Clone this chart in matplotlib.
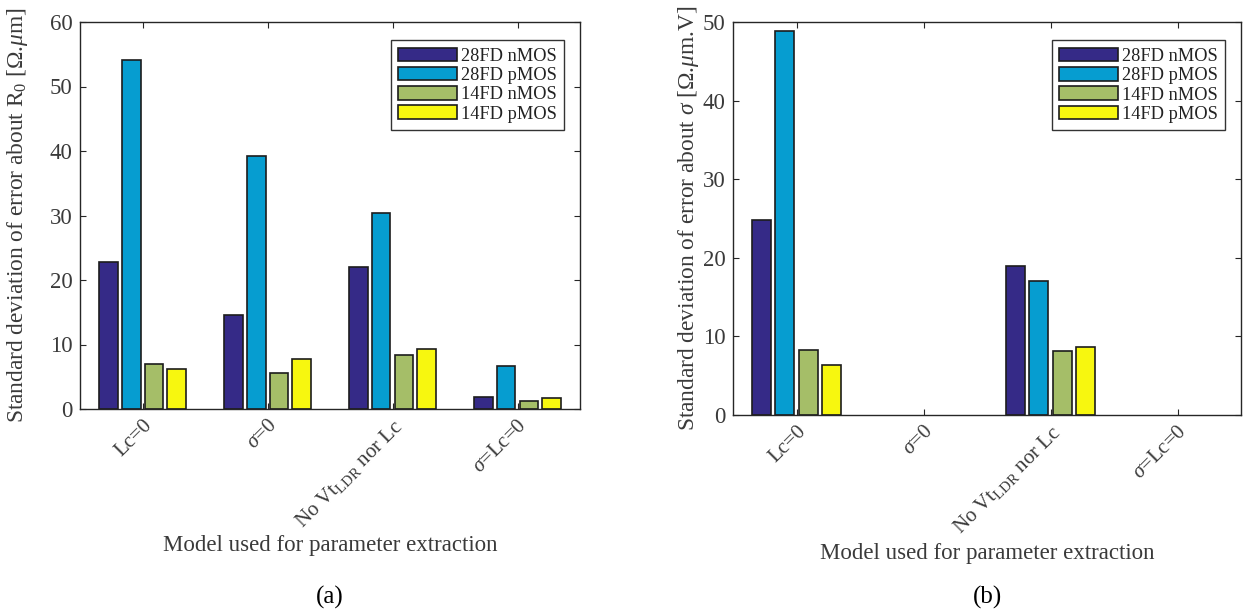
import numpy as np
import matplotlib
matplotlib.use("Agg")
import matplotlib.pyplot as plt

plt.rcParams['font.family'] = ['Liberation Serif', 'DejaVu Serif']
plt.rcParams['mathtext.fontset'] = 'custom'
plt.rcParams['mathtext.rm'] = 'Liberation Serif'
plt.rcParams['mathtext.it'] = 'Liberation Serif:italic'
plt.rcParams['mathtext.bf'] = 'Liberation Serif:bold'

# Extraction models (x categories)
models = ['Lc=0', r'$\it{\sigma}$=0', r'No Vt$_{\rm LDR}$ nor Lc',
          r'$\it{\sigma}$=Lc=0']
series = ['28FD nMOS', '28FD pMOS', '14FD nMOS', '14FD pMOS']
colors = ['#352A87', '#069DD0', '#A5BE68', '#F7F70F']

# (a) standard deviation of error about R0 [Ohm.um]
r0_28n = [22.8, 14.6, 22.0, 1.8]
r0_28p = [54.1, 39.3, 30.4, 6.6]
r0_14n = [6.9, 5.6, 8.4, 1.3]
r0_14p = [6.2, 7.8, 9.3, 1.75]

# (b) standard deviation of error about sigma [Ohm.um.V]
sg_28n = [24.75, np.nan, 19.0, np.nan]
sg_28p = [48.8, np.nan, 17.0, np.nan]
sg_14n = [8.3, np.nan, 8.1, np.nan]
sg_14p = [6.3, np.nan, 8.7, np.nan]

W, H = 1244, 613
fig = plt.figure(figsize=(W / 100, H / 100), dpi=100)

axcol = '#262626'
txtcol = '#3a3a3a'


def panel(rect, data, ymax, ylabel, ylab_x, letter, letter_y, xlabel_y):
    ax = fig.add_axes(rect)
    x = np.arange(1, len(models) + 1)
    pitch = 0.182
    width = 0.15
    for i, (vals, lab, c) in enumerate(zip(data, series, colors)):
        ax.bar(x + (i - 1.5) * pitch, vals, width=width, color=c,
               edgecolor='#1c1c1c', linewidth=1.2, label=lab, zorder=2)
    ax.set_xlim(0.5, len(models) + 0.5)
    ax.set_ylim(0, ymax)
    ax.set_yticks(np.arange(0, ymax + 1, 10))
    ax.set_xticks(x)
    ax.set_xticklabels(models, rotation=45, ha='right', va='top',
                       rotation_mode='anchor', fontsize=15, color=txtcol)
    ax.tick_params(axis='y', labelsize=16.5, labelcolor=txtcol, pad=5.5)
    ax.tick_params(direction='in', length=4, width=0.8, color=axcol,
                   top=True, right=True)
    ax.tick_params(axis='x', pad=5)
    for s in ax.spines.values():
        s.set_color(axcol)
        s.set_linewidth(1.0)
    ax.set_ylabel(ylabel, fontsize=16.8, color=txtcol)
    ax.yaxis.set_label_coords(ylab_x, 0.5)
    ax.set_xlabel('Model used for parameter extraction', fontsize=16.5,
                  color=txtcol)
    ax.xaxis.set_label_coords(0.5, xlabel_y)
    leg = ax.legend(loc='upper right', bbox_to_anchor=(0.968, 0.953),
                    fontsize=13.2, handlelength=3.2, handleheight=0.75,
                    handletextpad=0.2, labelspacing=0.12, borderpad=0.4,
                    fancybox=False, framealpha=1, borderaxespad=0)
    leg.get_frame().set_edgecolor('#333333')
    leg.get_frame().set_linewidth(1.0)
    for t in leg.get_texts():
        t.set_color('#222222')
    cx = rect[0] + rect[2] / 2
    fig.text(cx, letter_y, letter, ha='center', va='center', fontsize=18,
             color='black')
    return ax


panel([80 / W, 1 - 409 / H, 500 / W, 387 / H],
      [r0_28n, r0_28p, r0_14n, r0_14p], 60,
      r'Standard deviation of error about R$_0$ [$\Omega$.$\mu$m]', -0.1,
      '(a)', 1 - 597 / H, -0.325)

panel([733 / W, 1 - 415 / H, 508 / W, 393 / H],
      [sg_28n, sg_28p, sg_14n, sg_14p], 50,
      r'Standard deviation of error about $\it{\sigma}$ [$\Omega$.$\mu$m.V]',
      -0.063, '(b)', 1 - 597 / H, -0.325)

fig.savefig('out.png', dpi=100)
